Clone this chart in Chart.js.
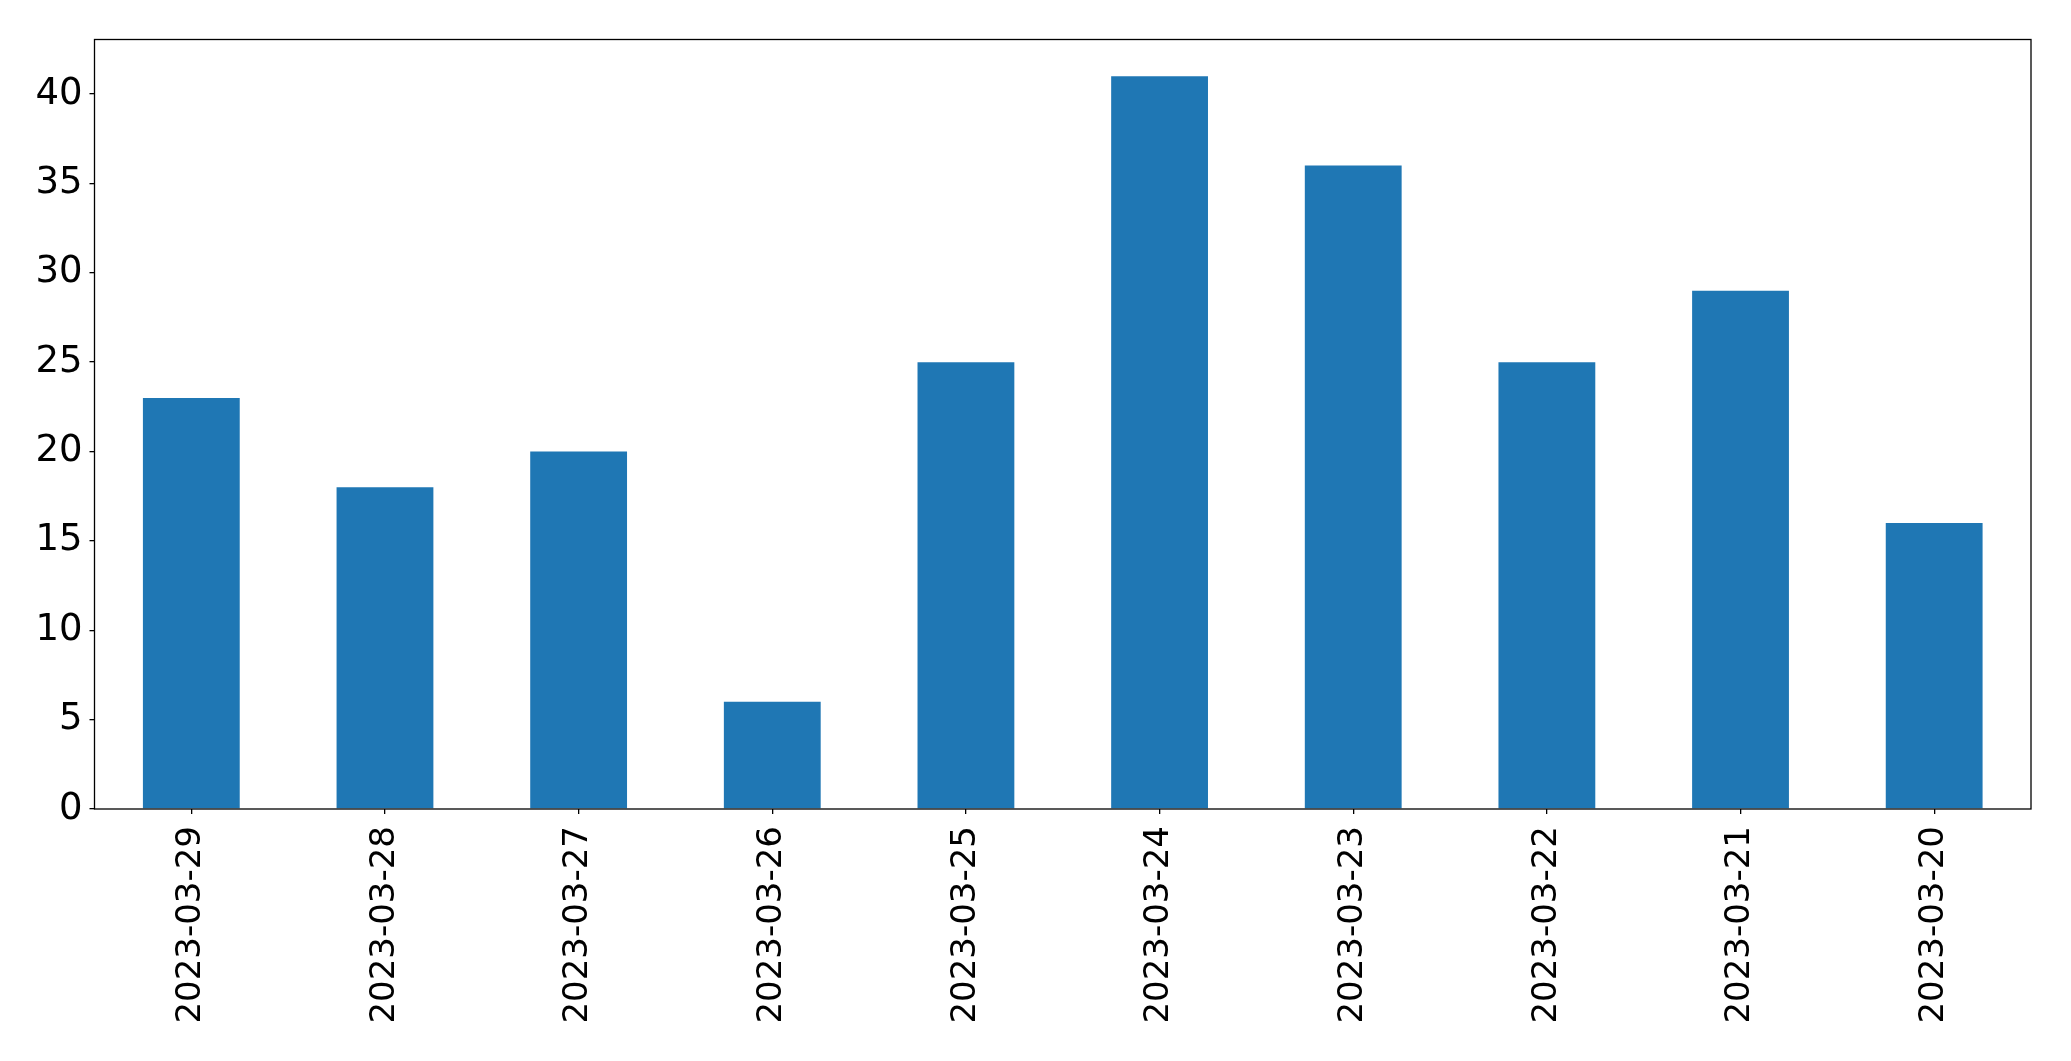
<!DOCTYPE html>
<html>
<head>
<meta charset="utf-8">
<script src="https://cdn.jsdelivr.net/npm/chart.js@4"></script>
<style>
  html, body { margin: 0; padding: 0; background: #fff; }
  canvas { display: block; }
</style>
</head>
<body>
<canvas id="chart" width="2071" height="1061"></canvas>
<script>
const dates = ['2023-03-29', '2023-03-28', '2023-03-27', '2023-03-26', '2023-03-25',
               '2023-03-24', '2023-03-23', '2023-03-22', '2023-03-21', '2023-03-20'];
const counts = [23, 18, 20, 6, 25, 41, 36, 25, 29, 16];
const yTicks = [0, 5, 10, 15, 20, 25, 30, 35, 40];

// frame around the plot area, like matplotlib's spines
const frame = {
  id: 'frame',
  afterDraw(chart) {
    const a = chart.chartArea, ctx = chart.ctx;
    ctx.save();
    ctx.strokeStyle = '#000';
    ctx.lineWidth = 1.3;
    ctx.strokeRect(a.left, a.top, a.right - a.left, a.bottom - a.top);
    ctx.restore();
  }
};

new Chart(document.getElementById('chart'), {
  type: 'bar',
  data: {
    labels: dates,
    datasets: [{
      data: counts,
      backgroundColor: '#1f77b4',
      barPercentage: 0.5,
      categoryPercentage: 1.0
    }]
  },
  options: {
    responsive: false,
    animation: false,
    devicePixelRatio: 1,
    layout: { padding: { left: 0, top: 39.5, right: 40, bottom: 0 } },
    plugins: { legend: { display: false }, tooltip: { enabled: false } },
    scales: {
      x: {
        grid: { offset: false, drawOnChartArea: false, tickLength: 5, color: '#000', lineWidth: 1.3 },
        border: { display: false },
        ticks: { color: '#000', font: { family: 'DejaVu Sans', size: 34 },
                 minRotation: 90, maxRotation: 90, padding: 12, autoSkip: false },
        afterFit(scale) { scale.height = 252; }
      },
      y: {
        min: 0,
        max: 43.05,
        afterBuildTicks(scale) { scale.ticks = yTicks.map(v => ({ value: v })); },
        grid: { drawOnChartArea: false, tickLength: 5, color: '#000', lineWidth: 1.3 },
        border: { display: false },
        ticks: { color: '#000', font: { family: 'DejaVu Sans', size: 37 }, padding: 7 },
        afterFit(scale) { scale.width = 94.5; }
      }
    }
  },
  plugins: [frame]
});
</script>
</body>
</html>
